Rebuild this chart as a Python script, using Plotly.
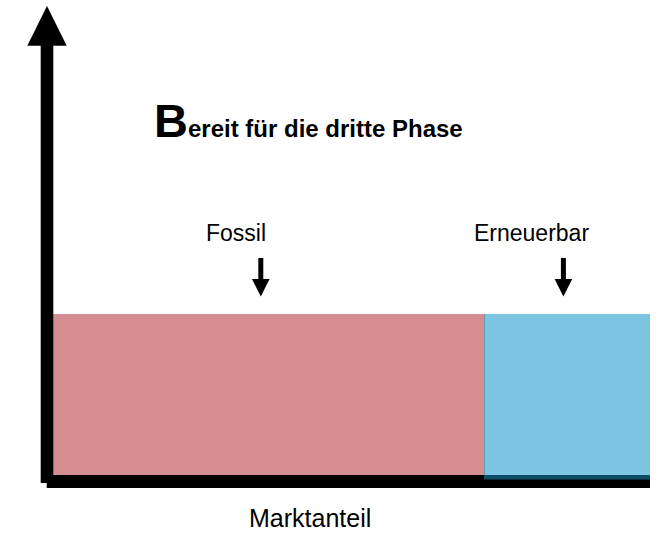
import plotly.graph_objects as go

# ---- data ----
categories = ["Fossil", "Erneuerbar"]
shares = [72.2, 27.8]          # market share (%)
heights = [1.0, 1.0]           # relative bar height
colors = ["#D58D92", "#7DC6E3"]
title_big = "B"
title_rest = "ereit für die dritte Phase"
x_label = "Marktanteil"

W, H = 666, 541
FONT = "Liberation Sans, Arial, sans-serif"

# centres of variable-width bars
centers = []
acc = 0.0
for s in shares:
    centers.append(acc + s / 2)
    acc += s

# axis mapping (plot area = whole figure)
x0_px, x1_px = 53.3, 650.0
ppu_x = (x1_px - x0_px) / sum(shares)
xr = [-x0_px / ppu_x, (W - x0_px) / ppu_x]
y0_px, y1_px = 475.0, 314.0
ppu_y = (y0_px - y1_px) / 1.0
yr = [-(H - y0_px) / ppu_y, y0_px / ppu_y]

def px(x):
    return x / W

def py(y):
    return 1 - y / H

fig = go.Figure()
fig.add_trace(go.Bar(
    x=centers, y=heights, width=shares,
    marker=dict(color=colors, line=dict(width=0)),
    hoverinfo="skip", showlegend=False,
))

shapes = []

def rect(xa, ya, xb, yb, color):
    shapes.append(dict(type="rect", xref="paper", yref="paper",
                       x0=px(xa), x1=px(xb), y0=py(yb), y1=py(ya),
                       fillcolor=color, line=dict(width=0), layer="above"))

def poly(points, color):
    path = "M " + " L ".join(f"{px(a):.5f},{py(b):.5f}" for a, b in points) + " Z"
    shapes.append(dict(type="path", xref="paper", yref="paper", path=path,
                       fillcolor=color, line=dict(width=0), layer="above"))

# y axis arrow
rect(40.7, 45.0, 53.3, 483.0, "black")
poly([(27.3, 45.7), (66.7, 45.7), (47.0, 6.0)], "black")
# x axis bar
rect(46.7, 475.0, 650.0, 488.0, "black")
# dark strip under renewable bar and its left edge
rect(484.0, 475.0, 650.0, 479.5, "#0E4C68")
rect(484.0, 314.0, 485.2, 475.0, "#6B9FB8")

# label arrows
for cx in (260.8, 563.4):
    rect(cx - 2.5, 258.0, cx + 2.5, 280.0, "black")
    poly([(cx - 8.8, 279.0), (cx + 8.8, 279.0), (cx, 296.5)], "black")

annotations = [
    dict(x=px(152), y=py(149), xref="paper", yref="paper",
         xanchor="left", yanchor="bottom", showarrow=False,
         text=f"<b><span style='font-size:47px'>{title_big}</span>{title_rest}</b>",
         font=dict(family=FONT, size=24, color="black")),
    dict(x=px(236), y=py(233), xref="paper", yref="paper",
         xanchor="center", yanchor="middle", showarrow=False,
         text=categories[0], font=dict(family=FONT, size=23, color="black")),
    dict(x=px(531), y=py(233), xref="paper", yref="paper",
         xanchor="center", yanchor="middle", showarrow=False,
         text=categories[1], font=dict(family=FONT, size=23, color="black")),
    dict(x=px(310), y=py(518), xref="paper", yref="paper",
         xanchor="center", yanchor="middle", showarrow=False,
         text=x_label, font=dict(family=FONT, size=25, color="black")),
]

fig.update_layout(
    width=W, height=H,
    margin=dict(l=0, r=0, t=0, b=0),
    paper_bgcolor="white", plot_bgcolor="white",
    xaxis=dict(range=xr, visible=False, fixedrange=True),
    yaxis=dict(range=yr, visible=False, fixedrange=True),
    shapes=shapes, annotations=annotations,
    bargap=0,
)

fig.write_html("out.html", config={"displayModeBar": False},
               post_script="document.body.style.margin='0';document.body.style.overflow='hidden';")
